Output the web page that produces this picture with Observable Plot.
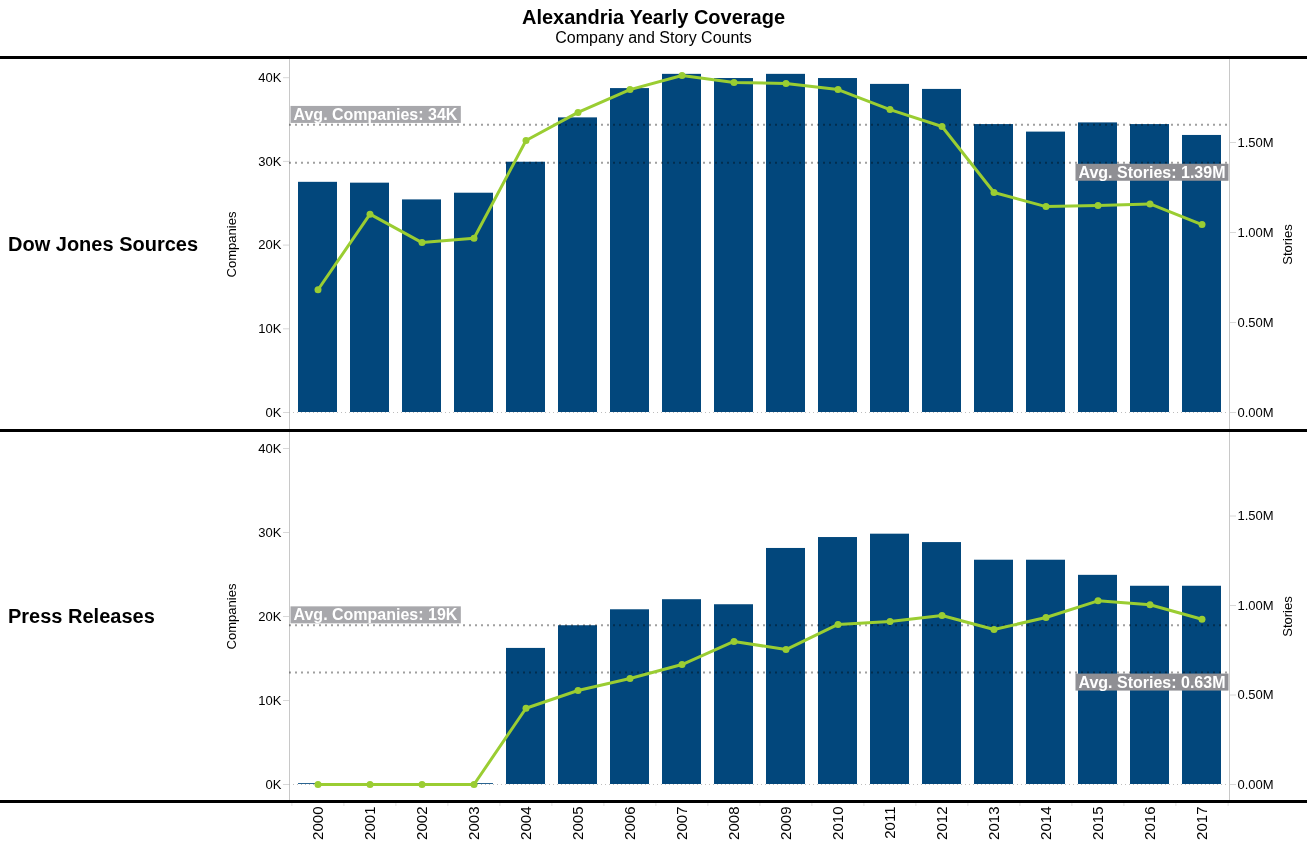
<!DOCTYPE html>
<html><head><meta charset="utf-8">
<script src="https://cdn.jsdelivr.net/npm/d3@7"></script>
<script src="https://cdn.jsdelivr.net/npm/@observablehq/plot@0.6"></script>
<style>
body{margin:0;background:#fff;font-family:Arial,"Liberation Sans",sans-serif;}
#chart{position:relative;width:1307px;height:865px;overflow:hidden;background:#fff;}
.title{position:absolute;left:0;width:1307px;text-align:center;font-weight:bold;font-size:20px;line-height:1;color:#000;}
.subtitle{position:absolute;left:0;width:1307px;text-align:center;font-size:16px;line-height:1;color:#000;}
.hline{position:absolute;left:0;width:1307px;height:3px;background:#000;z-index:5;}
.panel{position:absolute;left:0;width:1307px;}
.panel svg{position:absolute;left:0;top:0;}
.rowlabel{position:absolute;left:8px;font-weight:bold;font-size:20px;line-height:1;transform:translateY(-50%);color:#000;}
</style></head>
<body>
<div id="chart"></div>
<script>
// ---- data ----
const years = ["2000","2001","2002","2003","2004","2005","2006","2007","2008","2009","2010","2011","2012","2013","2014","2015","2016","2017"];
const djCompanies = [27500,27400,25400,26200,29900,35200,38700,40400,39900,40400,39900,39200,38600,34400,33500,34600,34400,33100];
const djStories = [682000,1102000,944000,968000,1511000,1667000,1794000,1872000,1833000,1828000,1794000,1683000,1589000,1222000,1144000,1150000,1159000,1044000];
const prCompanies = [100,100,100,100,16200,18900,20800,22000,21400,28100,29400,29800,28800,26700,26700,24900,23600,23600];
const prStories = [0,0,0,0,426000,525000,592000,670000,799000,754000,894000,911000,944000,866000,933000,1026000,1004000,923000];
const companyTicks = [0,10000,20000,30000,40000];
const storyTicks = [0,500000,1000000,1500000];
const rowNames = ["Dow Jones Sources","Press Releases"];

// ---- style ----
const BAR = "#02477c", LINE = "#9acd32";
const FONT = "Arial, 'Liberation Sans', sans-serif";
const W = 1307, ML = 289, MR = 78;

const chart = document.getElementById("chart");
function add(cls, top, text){
  const d = document.createElement("div"); d.className = cls; d.style.top = top+"px";
  if (text) d.textContent = text; chart.appendChild(d); return d;
}
add("title", 7, "Alexandria Yearly Coverage");
add("subtitle", 30, "Company and Story Counts");
add("hline", 56); add("hline", 429); add("hline", 800);

const xScale = {type:"band", domain: years, paddingInner:0.25, paddingOuter:0.125, axis:null};
const baseStyle = {fontFamily: FONT, fontSize:"13px", background:"transparent", color:"#000", overflow:"visible"};

function addBoxes(svg, fill){
  svg.querySelectorAll('g[aria-label="text"] text').forEach(t=>{
    const b = t.getBBox();
    const r = document.createElementNS("http://www.w3.org/2000/svg","rect");
    r.setAttribute("x", b.x-3); r.setAttribute("y", b.y); r.setAttribute("width", b.width+6); r.setAttribute("height", b.height);
    r.setAttribute("fill", fill);
    const tr = t.getAttribute("transform"); if (tr) r.setAttribute("transform", tr);
    t.parentNode.insertBefore(r, t);
  });
}

const avgRule = {stroke:"#a0a0a0", strokeWidth:2, strokeDasharray:"2,4", mixBlendMode:"multiply"};

function panel(top, H, zeroY, compPx, storyPx, companies, stories, name){
  const div = document.createElement("div"); div.className="panel";
  div.style.top = top+"px"; div.style.height = H+"px"; chart.appendChild(div);
  const data = years.map((y,i)=>({year:y, companies:companies[i], stories:stories[i]}));
  const avgC = d3.mean(companies), avgS = d3.mean(stories);
  const compDomain = [-(H-zeroY)/compPx, zeroY/compPx];
  const storyDomain = [-(H-zeroY)/storyPx, zeroY/storyPx];

  const a = Plot.plot({
    width: W, height: H, marginLeft: ML, marginRight: MR, marginTop: 0, marginBottom: 0,
    style: baseStyle, x: xScale, y: {domain: compDomain, axis: null},
    marks: [
      Plot.frame({anchor:"left", stroke:"#c8c8c8"}),
      Plot.ruleY([0], {stroke:"#bdbdbd", strokeDasharray:"1,3"}),
      Plot.barY(data, {x:"year", y:"companies", fill: BAR}),
      Plot.ruleY([avgC], avgRule),
      Plot.axisY({anchor:"left", ticks: companyTicks, tickFormat: d => d/1000 + "K", tickSize:6, tickPadding:2,
        stroke:"#d8d8d8", fill:"#000", label:"Companies", labelAnchor:"center", labelOffset:63, labelArrow:"none"}),
      Plot.text([avgC], {y: d=>d, frameAnchor:"left", textAnchor:"start", dx:4, dy:-10,
        text: d => `Avg. Companies: ${Math.round(d/1000)}K`, fill:"#fff", fontWeight:"bold", fontSize:16})
    ]
  });
  div.appendChild(a);
  addBoxes(a, "#a8a8ac");

  const b = Plot.plot({
    width: W, height: H, marginLeft: ML, marginRight: MR, marginTop: 0, marginBottom: 0,
    style: baseStyle, x: xScale, y: {domain: storyDomain, axis: null},
    marks: [
      Plot.frame({anchor:"right", stroke:"#c8c8c8"}),
      Plot.ruleY([avgS], avgRule),
      Plot.line(data, {x:"year", y:"stories", stroke: LINE, strokeWidth:3}),
      Plot.dot(data, {x:"year", y:"stories", fill: LINE, r:3.5}),
      Plot.axisY({anchor:"right", ticks: storyTicks, tickFormat: d => (d/1e6).toFixed(2) + "M", tickSize:6, tickPadding:2,
        stroke:"#d8d8d8", fill:"#000", label:"Stories", labelAnchor:"center", labelOffset:62, labelArrow:"none"}),
      Plot.text([avgS], {y: d=>d, frameAnchor:"right", textAnchor:"end", dx:-4, dy:10,
        text: d => `Avg. Stories: ${(d/1e6).toFixed(2)}M`, fill:"#fff", fontWeight:"bold", fontSize:16})
    ]
  });
  div.appendChild(b);
  addBoxes(b, "#8f8f94");

  const lab = document.createElement("div"); lab.className="rowlabel"; lab.textContent = name;
  lab.style.top = (H/2)+"px"; div.appendChild(lab);
}

panel(59, 370, 353, 8.37/1000, 180/1e6, djCompanies, djStories, rowNames[0]);
panel(432, 368, 352, 8.4/1000, 179/1e6, prCompanies, prStories, rowNames[1]);

// x axis
const sx = Plot.scale({x: {...xScale, range: [ML, W - MR]}});
const step = sx.step || ((W - ML - MR) / years.length);
const xdiv = document.createElement("div"); xdiv.className="panel"; xdiv.style.top="801px"; xdiv.style.height="60px"; chart.appendChild(xdiv);
const xa = Plot.plot({
  width: W, height: 60, marginLeft: ML, marginRight: MR, marginTop: 0, marginBottom: 55,
  style: {...baseStyle, fontSize:"15px"}, x: xScale, y:{domain:[0,1], range:[0,5], axis:null},
  marks: [
    Plot.ruleX(years, {x: d => d, y1: 0, y2: 1, dx: -step/2, stroke:"#e0e0e0"}),
    Plot.ruleX(years.slice(-1), {x: d => d, y1: 0, y2: 1, dx: step/2, stroke:"#e0e0e0"}),
    Plot.axisX({anchor:"bottom", tickSize:0, tickPadding:0, tickRotate:-90, fill:"#000"})
  ]
});
xdiv.appendChild(xa);
</script>
</body></html>
